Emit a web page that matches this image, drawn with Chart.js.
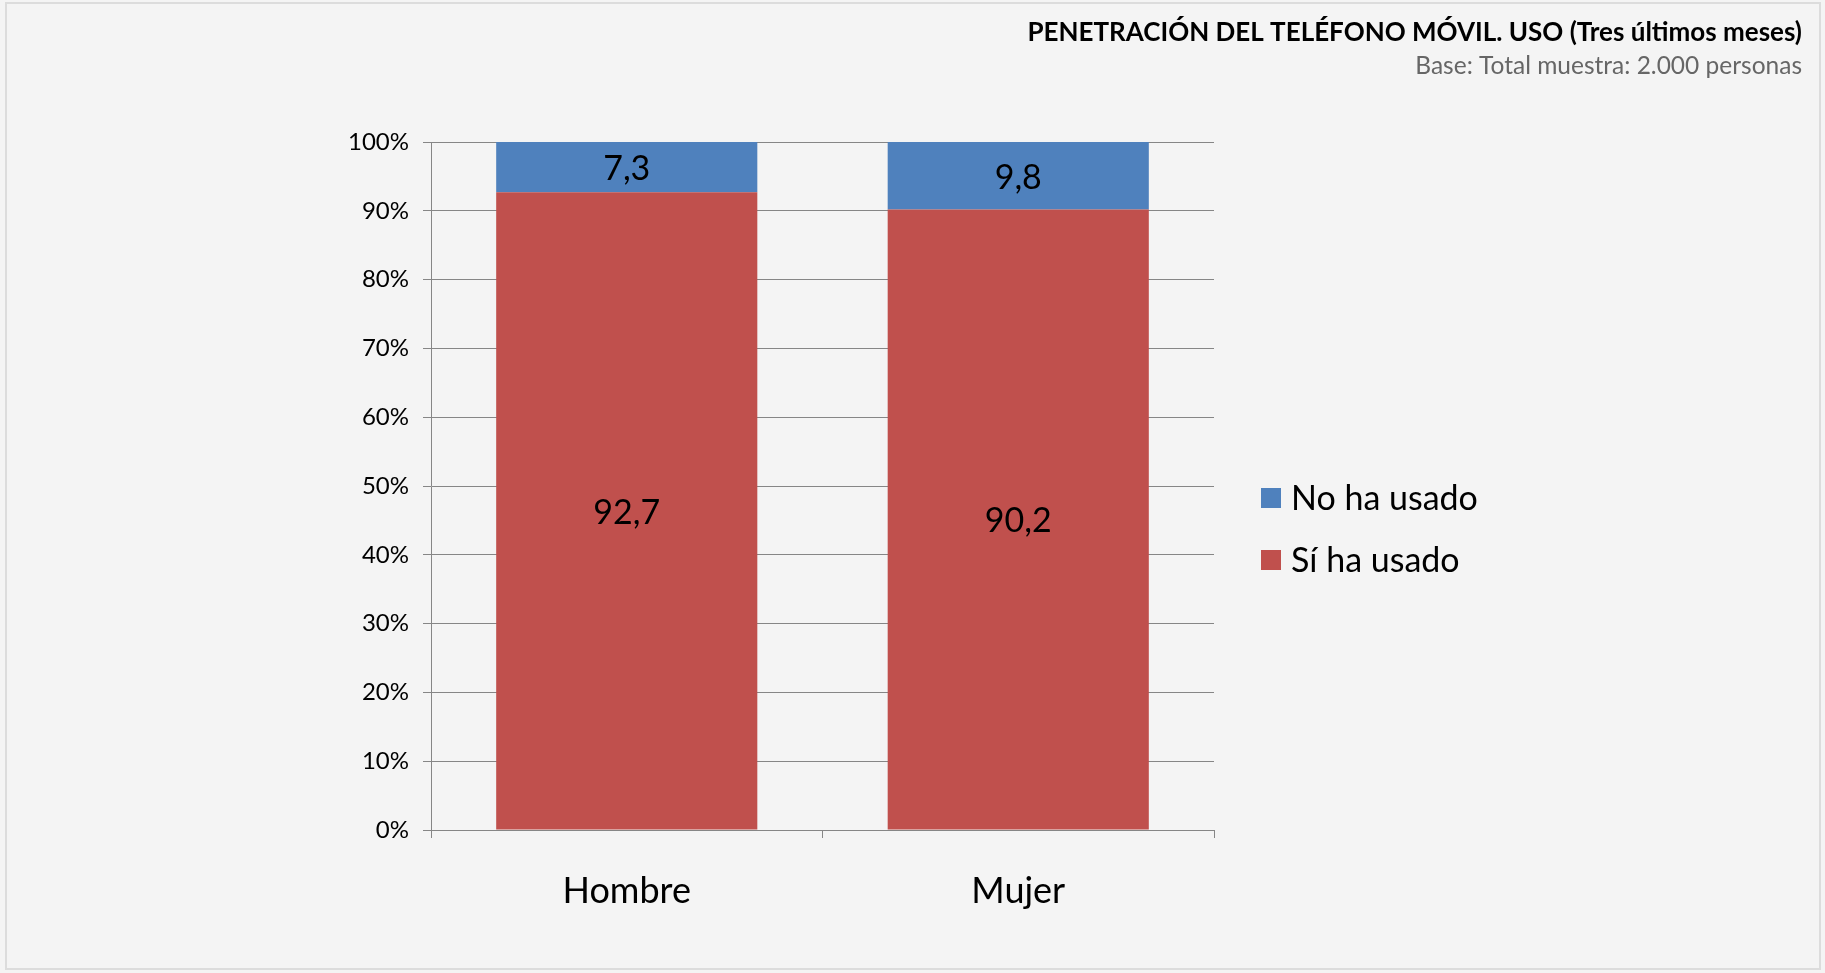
<!DOCTYPE html>
<html>
<head>
<meta charset="utf-8">
<script src="https://cdn.jsdelivr.net/npm/chart.js@4/dist/chart.umd.min.js"></script>
<style>
html,body{margin:0;padding:0;background:#f4f4f4;}
#wrap{width:1825px;height:973px;position:relative;}
</style>
</head>
<body>
<div id="wrap"><canvas id="c" width="1825" height="973"></canvas></div>
<script>
const categories = ["Hombre", "Mujer"];
const siHaUsado = [92.7, 90.2];
const noHaUsado = [7.3, 9.8];
const seriesLabels = ["Sí ha usado", "No ha usado"];
const yTicks = [0, 10, 20, 30, 40, 50, 60, 70, 80, 90, 100];
const titleText = "PENETRACIÓN DEL TELÉFONO MÓVIL. USO (Tres últimos meses)";
const subtitleText = "Base: Total muestra: 2.000 personas";

const FONT = "Lato, 'Open Sans', sans-serif";
const BLUE = "#4f81bd", RED = "#c0504d";

const framePlugin = {
  id: 'frame',
  beforeDraw(chart) {
    const ctx = chart.ctx;
    ctx.save();
    ctx.fillStyle = '#f4f4f4';
    ctx.fillRect(0, 0, chart.width, chart.height);
    ctx.strokeStyle = '#dcdcdc';
    ctx.lineWidth = 2;
    ctx.strokeRect(6, 3, 1814, 966);
    ctx.restore();
  },
  afterDraw(chart) {
    const ctx = chart.ctx;
    ctx.save();
    ctx.textAlign = 'right';
    ctx.textBaseline = 'middle';
    ctx.fillStyle = '#000';
    ctx.font = "bold 26px " + FONT;
    ctx.fillText(titleText, 1802, 33);
    ctx.fillStyle = '#666';
    ctx.font = "24.5px " + FONT;
    ctx.fillText(subtitleText, 1802, 66);

    // data labels
    ctx.textAlign = 'center';
    ctx.fillStyle = '#000';
    ctx.font = "34px " + FONT;
    chart.data.datasets.forEach((ds, di) => {
      const meta = chart.getDatasetMeta(di);
      meta.data.forEach((bar, i) => {
        const v = ds.data[i];
        const y = (bar.y + bar.base) / 2;
        ctx.fillText(String(v).replace('.', ','), bar.x, y + 2);
      });
    });

    // legend (reverse order, like the reference)
    ctx.textAlign = 'left';
    ctx.font = "34px " + FONT;
    const items = chart.data.datasets.slice().reverse();
    items.forEach((ds, k) => {
      const cy = 498 + k * 62;
      ctx.fillStyle = ds.backgroundColor;
      ctx.fillRect(1261, cy - 10, 20, 20);
      ctx.fillStyle = '#000';
      ctx.fillText(ds.label, 1291, cy + 1);
    });
    ctx.restore();
  }
};

new Chart(document.getElementById('c'), {
  type: 'bar',
  data: {
    labels: categories,
    datasets: [
      { label: seriesLabels[0], data: siHaUsado, backgroundColor: RED, barPercentage: 1, categoryPercentage: 0.667 },
      { label: seriesLabels[1], data: noHaUsado, backgroundColor: BLUE, barPercentage: 1, categoryPercentage: 0.667 }
    ]
  },
  options: {
    responsive: false,
    animation: false,
    layout: { padding: { left: 0, right: 611, top: 142, bottom: 0 } },
    plugins: { legend: { display: false }, title: { display: false }, tooltip: { enabled: false } },
    scales: {
      x: {
        stacked: true,
        grid: { display: true, drawOnChartArea: false, drawTicks: true, tickLength: 8, color: '#868686', offset: true },
        border: { display: true, color: '#868686', width: 1 },
        ticks: { color: '#000', font: { family: FONT, size: 36 }, padding: 32 },
        afterFit(s) { s.height = 143; }
      },
      y: {
        stacked: true,
        min: 0, max: 100,
        afterBuildTicks(s) { s.ticks = yTicks.map(v => ({ value: v })); },
        grid: { color: '#868686', drawTicks: true, tickLength: 8 },
        border: { display: true, color: '#868686', width: 1 },
        ticks: { color: '#000', font: { family: FONT, size: 24 }, padding: 14, callback: v => v + '%' },
        afterFit(s) { s.width = 431; }
      }
    }
  },
  plugins: [framePlugin]
});
</script>
</body>
</html>
